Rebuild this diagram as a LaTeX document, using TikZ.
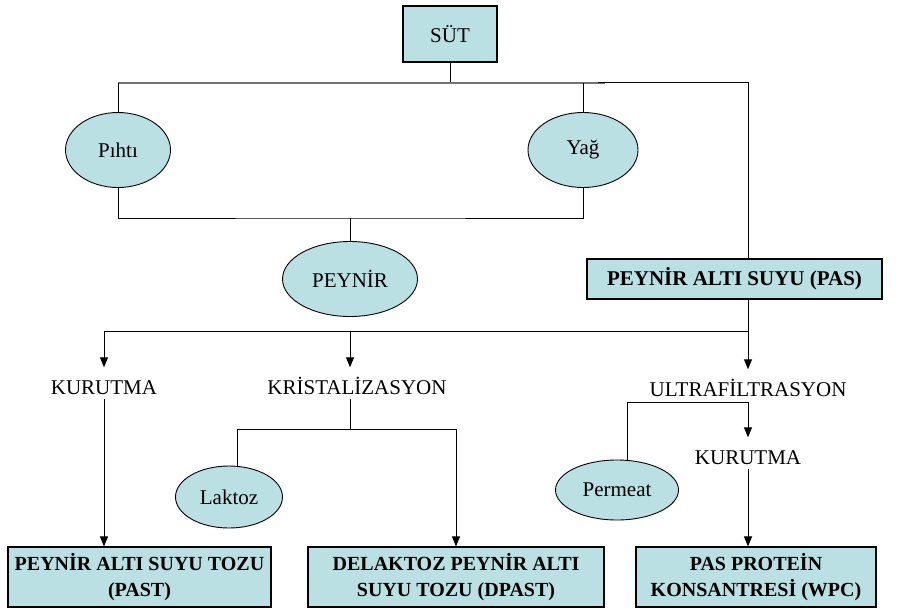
\documentclass[tikz,border=0pt]{standalone}
\usepackage{fontspec}
\setmainfont{Liberation Serif}
\usetikzlibrary{arrows.meta,shapes.geometric}
\definecolor{boxfill}{RGB}{186,224,227}
\begin{document}
\begin{tikzpicture}[x=1pt,y=-1pt,
  conn/.style={draw=black,line width=0.9pt},
  arr/.style={conn,-{Triangle[length=10pt,width=8pt]}},
  hline/.style={draw=black!55,line width=1.6pt},
  boxnode/.style={draw=black,line width=1.1pt,fill=boxfill,rectangle,inner sep=0pt,align=center},
  ovalnode/.style={draw=black,line width=0.9pt,fill=boxfill,ellipse,inner sep=0pt,font=\fontsize{21}{25}\selectfont},
  lbl/.style={inner xsep=2pt,inner ysep=4pt,text height=15pt,text depth=0pt,font=\fontsize{21}{25}\selectfont},
  bigbox/.style={boxnode,font=\fontsize{20}{26}\selectfont\bfseries,minimum height=60pt}
]
\path[use as bounding box] (0,0) rectangle (904,611);

% nodes
\node[boxnode,minimum width=94pt,minimum height=56pt,font=\fontsize{21}{25}\selectfont] (sut) at (450,34) {SÜT};
\node[ovalnode,minimum width=105pt,minimum height=75pt] (pihti) at (118,150) {Pıhtı};
\node[ovalnode,minimum width=110pt,minimum height=75pt] (yag) at (583,150) {Yağ};
\node[ovalnode,minimum width=135pt,minimum height=75pt] (peynir) at (350,279) {PEYNİR};
\node[boxnode,minimum width=295pt,minimum height=40pt,font=\fontsize{21}{25}\selectfont\bfseries] (pas) at (734.5,279) {PEYNİR ALTI SUYU (PAS)};

\node[lbl] (k1) at (104,387) {KURUTMA};
\node[lbl] (kr) at (357,387) {KRİSTALİZASYON};
\node[lbl] (uf) at (748,389) {ULTRAFİLTRASYON};
\node[lbl] (k2) at (748,457) {KURUTMA};

\node[ovalnode,minimum width=107pt,minimum height=62pt] (laktoz) at (229,497) {Laktoz};
\node[ovalnode,minimum width=123pt,minimum height=60pt] (permeat) at (617,490) {Permeat};

\node[bigbox,minimum width=263pt] (b1) at (139.5,577) {PEYNİR ALTI SUYU TOZU\\(PAST)};
\node[bigbox,minimum width=296pt] (b2) at (456,577) {DELAKTOZ PEYNİR ALTI\\SUYU TOZU (DPAST)};
\node[bigbox,minimum width=240pt] (b3) at (756,577) {PAS PROTEİN\\KONSANTRESİ (WPC)};

% junction coordinates
\coordinate (t0) at (450,83);
\coordinate (tR) at (605,83);
\coordinate (pt) at (598,82);
\coordinate (j2) at (350,218);
\coordinate (pasx) at (748,331);
\coordinate (kj) at (350,429);
\coordinate (uj) at (748,402);

% top part
\draw[conn] (sut.south) -- (t0);
\draw[hline] (pihti.north |- t0) -- (tR);
\draw[conn] (pihti.north |- t0) -- (pihti.north);
\draw[conn] (yag.north |- t0) -- (yag.north);
\draw[conn] (pt) -| (pas.north -| pasx);

\draw[conn] (pihti.south) |- (j2) -| (yag.south);
\draw[conn] (j2) -- (peynir.north);

% PAS branch
\draw[conn] (pas.south -| pasx) -- (pasx) -- (k1 |- pasx);
\draw[arr,shorten >=8pt] (k1 |- pasx) -- (k1.north);
\draw[arr,shorten >=8pt] (kj |- pasx) -- (kr.north -| kj);
\draw[arr,shorten >=8pt] (pasx) -- (uf.north);

% kurutma -> PAST
\draw[arr] (k1.south) -- (k1.south |- b1.north);

% kristalizasyon
\draw[conn] (kr.south -| kj) -- (kj);
\draw[conn] (laktoz.75) |- (kj);
\draw[arr] (kj) -| (b2.north);

% ultrafiltrasyon
\draw[conn] (permeat.70) |- (uj);
\draw[arr,shorten >=8pt] (uj) -- (k2.north);
\draw[arr] (k2.south) -- (k2.south |- b3.north);
\end{tikzpicture}
\end{document}
